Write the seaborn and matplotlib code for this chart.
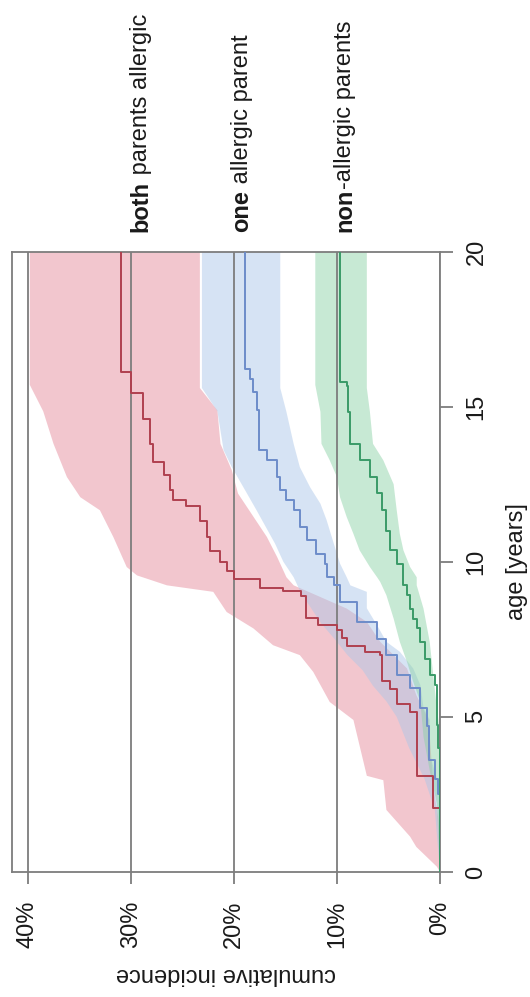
import numpy as np
import matplotlib
matplotlib.use("Agg")
import matplotlib.pyplot as plt
import seaborn as sns
from matplotlib.transforms import blended_transform_factory

# ---------------- data ----------------
# step curves: age [years] at which the cumulative incidence [%] jumps to the value
both_age = np.array([0, 2.05, 3.1, 5.15, 5.4, 5.9, 6.15, 7.0, 7.1, 7.3, 7.55, 7.8, 7.95, 8.2,
                     8.9, 9.05, 9.15, 9.45, 9.7, 10.0, 10.35, 10.8, 11.3, 11.8, 12.0, 12.3,
                     12.8, 13.2, 13.8, 14.6, 15.45, 16.1, 20])
both_inc = np.array([0, 0.65, 2.26, 2.9, 4.2, 4.85, 5.6, 5.8, 7.3, 9.0, 9.5, 10.0, 11.8, 13.0,
                     13.5, 15.2, 17.5, 20.0, 20.7, 21.3, 22.3, 22.6, 23.3, 24.6, 25.9, 26.2,
                     26.8, 27.8, 28.1, 28.8, 30.0, 31.0, 31.0])

one_age = np.array([0, 2.5, 3.0, 3.6, 4.7, 5.27, 5.92, 6.34, 6.99, 7.52, 8.06, 8.7, 9.24, 9.51,
                    9.94, 10.26, 10.69, 11.12, 11.66, 11.98, 12.3, 12.73, 13.27, 13.6, 14.88,
                    15.47, 15.9, 16.2, 20])
one_inc = np.array([0, 0.2, 0.5, 1.1, 1.3, 1.9, 2.9, 4.2, 5.2, 6.1, 8.1, 9.7, 10.3, 11.0,
                    11.2, 12.0, 12.9, 13.6, 14.2, 14.9, 15.5, 15.8, 16.8, 17.6, 17.8,
                    18.1, 18.4, 18.9, 18.9])

non_age = np.array([0, 4.0, 4.73, 6.02, 6.34, 6.88, 7.42, 7.85, 8.17, 8.49, 8.92, 9.24, 9.94,
                    10.37, 11.0, 11.66, 12.2, 12.73, 13.27, 13.8, 14.83, 15.68, 15.8, 20])
non_inc = np.array([0, 0.15, 0.3, 0.5, 0.97, 1.45, 1.9, 2.26, 2.6, 2.9, 3.2, 3.6, 4.2,
                    4.85, 5.2, 5.65, 6.1, 6.8, 7.8, 8.7, 8.9, 9.05, 9.7, 9.7])

# confidence bands: upper (hi) and lower (lo) bound, each with its own ages
both_hi_age = np.array([0, 0.17, 0.81, 1.14, 2.0, 2.96, 3.1, 4.9, 5.48, 6.45, 6.99, 7.31, 7.85,
                        8.38, 9.03, 9.24, 9.56, 9.83, 10.8, 11.66, 12.08, 12.73, 13.8, 14.85,
                        15.7, 20])
both_hi = np.array([0, 0.3, 2.3, 2.9, 5.2, 5.5, 7.1, 8.4, 10.7, 12.3, 13.6, 16.2, 18.1,
                    20.7, 22.0, 26.5, 29.4, 30.4, 31.7, 33.0, 34.9, 36.2, 37.5, 38.5,
                    39.8, 39.8])
both_lo_age = np.array([0, 1.7, 2.75, 4.9, 5.7, 6.56, 6.99, 7.42, 8.06, 8.49, 8.92, 9.24, 9.5,
                        10.15, 10.8, 11.6, 12.2, 12.95, 13.8, 14.88, 15.6, 20])
both_lo = np.array([0, 0.15, 0.65, 1.1, 2.3, 3.2, 4.5, 5.8, 7.1, 9.05, 12.0, 14.2, 14.9,
                    15.8, 16.8, 18.4, 19.6, 20.2, 21.3, 21.6, 23.3, 23.3])

one_hi_age = np.array([0, 2.0, 3.0, 4.0, 5.0, 5.5, 6.0, 6.5, 7.0, 7.5, 8.0, 8.5, 9.0, 9.5, 10.0,
                       10.58, 11.12, 11.66, 12.3, 13.05, 13.6, 14.85, 15.6, 20])
one_hi = np.array([0, 0.5, 1.5, 3.0, 4.2, 5.2, 6.5, 7.5, 9.0, 10.2, 11.5, 12.5, 13.5, 14.2,
                   15.2, 16.0, 16.9, 17.8, 18.9, 20.2, 21.0, 21.6, 23.1, 23.1])
one_lo_age = np.array([0, 2.8, 3.0, 3.8, 4.9, 5.3, 6.02, 6.56, 7.1, 7.42, 7.95, 8.5, 9.03,
                       9.24, 9.5, 9.94, 10.58, 11.34, 11.87, 12.4, 13.05, 13.8, 14.83, 15.6, 20])
one_lo = np.array([0, 0, 0.3, 1.0, 1.0, 1.6, 1.9, 2.6, 3.9, 5.2, 6.1, 7.1, 7.1,
                   8.7, 9.05, 9.7, 10.3, 11.0, 11.6, 12.6, 13.6, 14.2, 14.9, 15.5, 15.5])

non_hi_age = np.array([0, 2.2, 3.28, 4.36, 5.48, 6.13, 6.77, 7.42, 8.17, 8.92, 9.35, 9.5, 9.83,
                       10.37, 10.9, 11.44, 12.08, 12.73, 13.27, 13.8, 14.83, 15.7, 20])
non_hi = np.array([0, 0.3, 1.0, 1.6, 1.9, 2.6, 3.2, 3.9, 4.5, 5.2, 5.8, 6.1, 6.8,
                   7.8, 8.4, 9.05, 9.7, 10.0, 10.7, 11.5, 11.6, 12.1, 12.1])
non_lo_age = np.array([0, 4.5, 5.27, 6.34, 7.42, 8.49, 9.24, 9.5, 9.83, 10.37, 10.9, 11.66,
                       12.5, 13.27, 13.8, 14.83, 15.6, 20])
non_lo = np.array([0, 0, 0.3, 0.65, 1.0, 1.6, 2.26, 2.26, 2.9, 3.55, 3.9, 4.2,
                   4.5, 5.5, 6.5, 6.8, 7.1, 7.1])

group_bold = ["both", "one", "non"]
group_rest = [" parents allergic", " allergic parent", "-allergic parents"]
label_pos = [28.4, 18.6, 8.6]          # label baseline position (% axis)
inc_ticks = [0, 10, 20, 30, 40]
inc_ticklabels = ["0%", "10%", "20%", "30%", "40%"]
age_ticks = [0, 5, 10, 15, 20]
age_ticklabels = ["0", "5", "10", "15", "20"]

# ---------------- style ----------------
sns.set_theme(style="white")
plt.rcParams["font.family"] = ["Liberation Sans", "DejaVu Sans"]
FS = 17
TXT = "#1a1a1a"
GRID = "#7d7d7d"

line_colors = ["#b0404f", "#6d8cc9", "#3a9a68"]
band_colors = ["#e5889a", "#abc6e8", "#8bd1a6"]

W, H = 530, 997
fig = plt.figure(figsize=(W / 100, H / 100), dpi=100)
box_l, box_r, box_t, box_b = 12.3, 440.0, 251.5, 872.0
ax = fig.add_axes([box_l / W, (H - box_b) / H, (box_r - box_l) / W, (box_b - box_t) / H])
ax.set_facecolor("white")

# bands
bands = [
    (both_hi_age, both_hi, both_lo_age, both_lo),
    (one_hi_age, one_hi, one_lo_age, one_lo),
    (non_hi_age, non_hi, non_lo_age, non_lo),
]
for (ha_, hv, la, lv), c in zip(bands, band_colors):
    ax.fill(np.concatenate([hv, lv[::-1]]), np.concatenate([ha_, la[::-1]]),
            color=c, alpha=0.48, lw=0, zorder=1)

# step lines
for inc, age, c in [(both_inc, both_age, line_colors[0]),
                    (one_inc, one_age, line_colors[1]),
                    (non_inc, non_age, line_colors[2])]:
    sns.lineplot(x=inc, y=age, sort=False, estimator=None, drawstyle="steps-pre",
                 color=c, lw=1.4, ax=ax, zorder=3)

ax.set_xlim(41.5, 0)
ax.set_ylim(0, 20)
ax.set_axisbelow("line")

ax.set_xticks(inc_ticks)
ax.set_xticklabels(inc_ticklabels)
ax.yaxis.tick_right()
ax.set_yticks(age_ticks)
ax.set_yticklabels(age_ticklabels)

ax.xaxis.grid(True, color=GRID, lw=1.3)
ax.yaxis.grid(False)

ax.tick_params(axis="x", bottom=True, top=False, direction="out", length=8.6, width=1.3,
               color=GRID, pad=12, labelrotation=90, labelsize=FS, labelcolor=TXT)
ax.tick_params(axis="y", right=True, left=False, labelright=True, labelleft=False,
               direction="out", length=9.4, width=1.3, color=GRID, pad=9,
               labelrotation=90, labelsize=FS, labelcolor=TXT)
for lab in ax.get_yticklabels():
    lab.set_verticalalignment("center")

for s in ax.spines.values():
    s.set_color(GRID)
    s.set_linewidth(1.3)

ax.set_xlabel("cumulative incidence", rotation=180, fontsize=FS, color=TXT, labelpad=11)
ax.yaxis.set_label_position("right")
ax.set_ylabel("age [years]", rotation=90, fontsize=FS, color=TXT, labelpad=13)

# group labels above the panel (bold first word + regular remainder)
trans = blended_transform_factory(ax.transData, ax.transAxes)
y0 = (box_b - 232) / (box_b - box_t)
fig.canvas.draw()
renderer = fig.canvas.get_renderer()
for b, r, p in zip(group_bold, group_rest, label_pos):
    t1 = ax.text(p, y0, b, transform=trans, rotation=90, rotation_mode="anchor",
                 ha="left", va="baseline", fontsize=FS, fontweight="bold", color=TXT)
    bb = t1.get_window_extent(renderer)
    y1 = ax.transAxes.inverted().transform((0, bb.y1))[1]
    ax.text(p, y1, r, transform=trans, rotation=90, rotation_mode="anchor",
            ha="left", va="baseline", fontsize=FS, color=TXT)

fig.savefig("out.png", dpi=100)
